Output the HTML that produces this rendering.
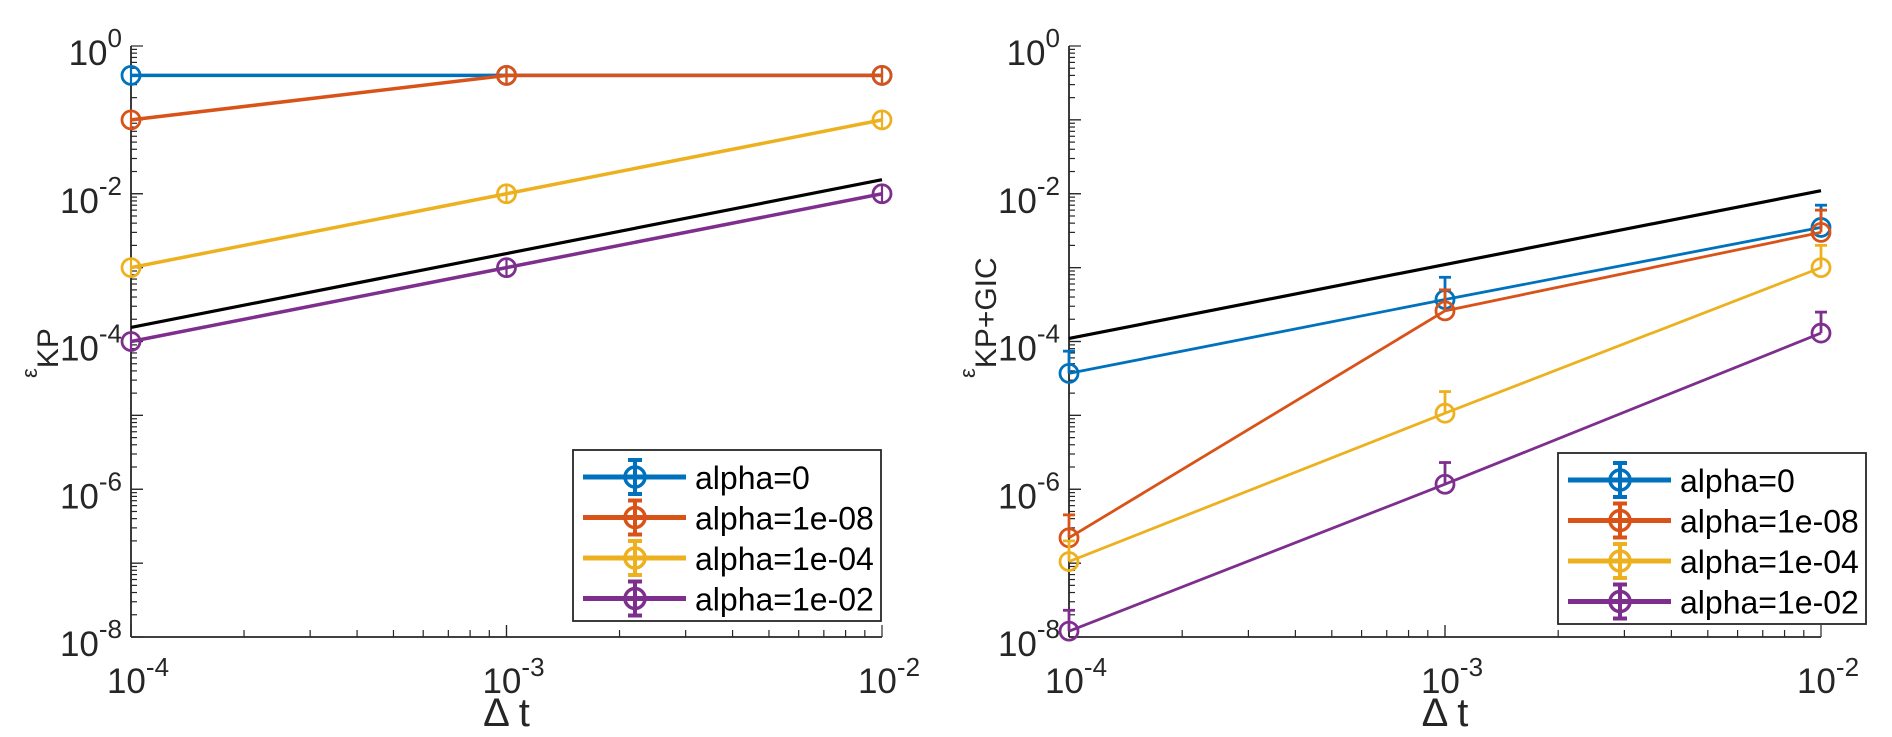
<!DOCTYPE html>
<html><head><meta charset="utf-8"><style>
html,body{margin:0;padding:0;background:#fff;}
svg{display:block;font-family:"Liberation Sans",Arial,sans-serif;}
</style></head><body>
<svg id="chart" width="1892" height="737" viewBox="0 0 1892 737"></svg>
<script>
const xTicks = [1e-4, 1e-3, 1e-2];
const xTickExp = ["-4", "-3", "-2"];
const yTicks = [1, 1e-2, 1e-4, 1e-6, 1e-8];
const yTickExp = ["0", "-2", "-4", "-6", "-8"];
const seriesNames = ["alpha=0", "alpha=1e-08", "alpha=1e-04", "alpha=1e-02"];
const seriesColors = ["#0072BD", "#D95319", "#EDB120", "#7E2F8E"];
// Left panel
const leftBlue = [0.4, 0.4, 0.4];
const leftOrange = [0.1, 0.4, 0.4];
const leftYellow = [1e-3, 1e-2, 0.1];
const leftPurple = [1e-4, 1e-3, 1e-2];
const leftRef = [1.55e-4, 1.55e-3, 1.55e-2];
// Right panel
const rightBlue = [3.7e-5, 3.7e-4, 3.5e-3];
const rightOrange = [2.2e-7, 2.6e-4, 3e-3];
const rightYellow = [1.05e-7, 1.07e-5, 1e-3];
const rightPurple = [1.2e-8, 1.17e-6, 1.3e-4];
const rightBlueErr = [7.4e-5, 7.4e-4, 7e-3];
const rightOrangeErr = [4.5e-7, 5e-4, 6e-3];
const rightYellowErr = [2e-7, 2.1e-5, 2e-3];
const rightPurpleErr = [2.3e-8, 2.3e-6, 2.5e-4];
const rightRef = [1.1e-4, 1.1e-3, 1.1e-2];

const NS = "http://www.w3.org/2000/svg";
const svg = document.getElementById("chart");
function mk(tag, attrs, parent) {
  const e = document.createElementNS(NS, tag);
  for (const k in attrs) e.setAttribute(k, attrs[k]);
  (parent || svg).appendChild(e);
  return e;
}

function panel(p) {
  const g = mk("g", {});
  
  
  const sx = v => p.x0 + (Math.log10(v) + 4) / 2 * (p.x1 - p.x0);
  const sy = v => p.y0 + (-Math.log10(v)) / 8 * (p.y1 - p.y0);
  const ax = "#262626";
  const xa = mk("line", {x1: p.x0, y1: p.y1, x2: p.x1, y2: p.y1, stroke: ax, "stroke-width": 1.8}, g);
  
  
  const ya = mk("line", {x1: p.x0, y1: p.y0, x2: p.x0, y2: p.y1, stroke: ax, "stroke-width": 1.8}, g);
  
  
  for (let d = -4; d < -2; d++) for (let m = 1; m <= 10; m++) {
    const v = m * Math.pow(10, d); const X = sx(v);
    const L = (m === 1 || m === 10) ? 12 : 7;
    mk("line", {x1: X, y1: p.y1, x2: X, y2: p.y1 - L, stroke: ax, "stroke-width": 1.2}, g);
  }
  for (let d = -8; d < 0; d++) for (let m = 1; m <= 10; m++) {
    const v = m * Math.pow(10, d); const Y = sy(v);
    const L = (m === 1 || m === 10) ? 12 : 6;
    mk("line", {x1: p.x0, y1: Y, x2: p.x0 + L, y2: Y, stroke: ax, "stroke-width": 1.2}, g);
  }
  xTicks.forEach((v, i) => {
    const t = mk("text", {x: sx(v) + 7, y: p.y1 + 56, "font-size": 35, fill: "#262626", "text-anchor": "middle"}, g);
    
    
    t.innerHTML = '10<tspan dy="-17" font-size="26">' + xTickExp[i] + '</tspan>';
  });
  yTicks.forEach((v, i) => {
    const t = mk("text", {x: p.x0 - 9, y: sy(v) + 19, "font-size": 35, fill: "#262626", "text-anchor": "end"}, g);
    
    
    t.innerHTML = '10<tspan dy="-18" font-size="26">' + yTickExp[i] + '</tspan>';
  });
  const xl = mk("text", {x: sx(1e-3), y: 726, "font-size": 40, fill: "#262626", "text-anchor": "middle"}, g);
  
  
  xl.textContent = "\u0394 t";
  const yl = mk("text", {transform: "translate(" + (p.x0 - 94) + ",378) rotate(-90)", "font-size": 22, fill: "#262626", "text-anchor": "start"}, g);
  
  
  yl.innerHTML = '\u03b5<tspan dy="21" font-size="30">' + p.ylabel + '</tspan>';
  const ref = mk("polyline", {points: xTicks.map((x, i) => sx(x) + "," + sy(p.ref[i])).join(" "), fill: "none", stroke: "#000", "stroke-width": 3.2}, g);
  
  
  p.series.forEach((s, si) => {
    const c = seriesColors[si];
    const sg = mk("g", {}, g);
    
    
    mk("polyline", {points: xTicks.map((x, i) => sx(x) + "," + sy(s[i])).join(" "), fill: "none", stroke: c, "stroke-width": p.lw}, sg);
    xTicks.forEach((x, i) => {
      if (p.err) {
        const e = p.err[si][i];
        mk("line", {x1: sx(x), y1: sy(s[i]), x2: sx(x), y2: sy(e), stroke: c, "stroke-width": 2.8}, sg);
        mk("line", {x1: sx(x) - 6, y1: sy(e), x2: sx(x) + 6, y2: sy(e), stroke: c, "stroke-width": 2.8}, sg);
      } else {
        mk("line", {x1: sx(x), y1: sy(s[i]) - 9, x2: sx(x), y2: sy(s[i]) + 9, stroke: c, "stroke-width": 2.2}, sg);
      }
      const m = mk("circle", {cx: sx(x), cy: sy(s[i]), r: 9, fill: "none", stroke: c, "stroke-width": 2.8}, sg);
      
      
    });
  });
  const lg = mk("g", {}, g);
  
  
  mk("rect", {x: p.lx, y: p.ly, width: 308, height: 171, fill: "#fff", stroke: "#262626", "stroke-width": 1.8}, lg);
  seriesNames.forEach((n, i) => {
    const Y = p.ly + 27 + i * 40.5; const c = seriesColors[i];
    const e = mk("g", {}, lg);
    
    
    mk("line", {x1: p.lx + 10, y1: Y, x2: p.lx + 113, y2: Y, stroke: c, "stroke-width": 5}, e);
    mk("line", {x1: p.lx + 62, y1: Y - 17, x2: p.lx + 62, y2: Y + 17, stroke: c, "stroke-width": 4}, e);
    mk("line", {x1: p.lx + 55, y1: Y - 17, x2: p.lx + 69, y2: Y - 17, stroke: c, "stroke-width": 4}, e);
    mk("line", {x1: p.lx + 55, y1: Y + 17, x2: p.lx + 69, y2: Y + 17, stroke: c, "stroke-width": 4}, e);
    mk("circle", {cx: p.lx + 62, cy: Y, r: 10, fill: "none", stroke: c, "stroke-width": 3.5}, e);
    const t = mk("text", {x: p.lx + 122, y: Y + 12, "font-size": 32, fill: "#000"}, e);
    t.textContent = n;
  });
}

panel({name: "left-panel", x0: 131, x1: 882, y0: 46, y1: 637, ylabel: "KP", lw: 3.5,
  series: [leftBlue, leftOrange, leftYellow, leftPurple], ref: leftRef, err: null, lx: 573, ly: 450});
panel({name: "right-panel", x0: 1069, x1: 1821, y0: 46, y1: 637, ylabel: "KP+GIC", lw: 2.8,
  series: [rightBlue, rightOrange, rightYellow, rightPurple], ref: rightRef,
  err: [rightBlueErr, rightOrangeErr, rightYellowErr, rightPurpleErr], lx: 1558, ly: 453});
</script>
</body></html>
